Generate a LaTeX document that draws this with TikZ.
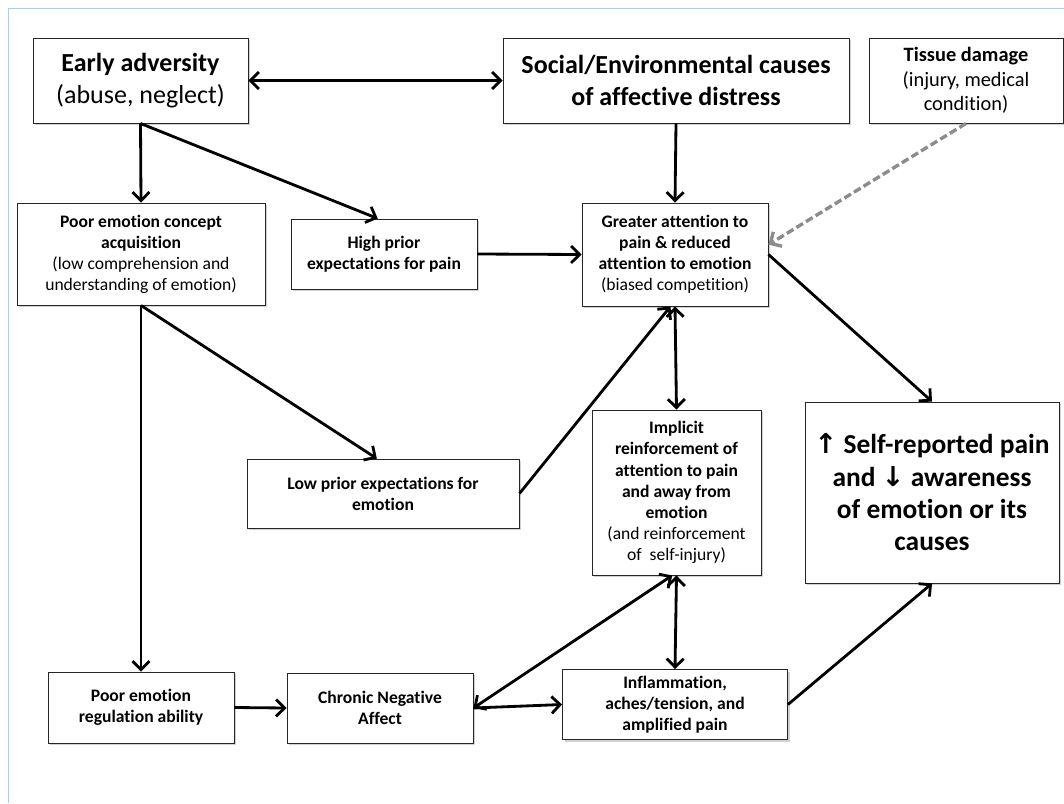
\documentclass[tikz,border=0pt]{standalone}
\usepackage{fontspec}
\setmainfont[Ligatures=NoCommon]{Carlito}
\newfontfamily\arrowfont{DejaVu Sans}
\usetikzlibrary{arrows.meta}
\usetikzlibrary{shadows}
\definecolor{framebl}{RGB}{178,203,230}

\begin{document}
\begin{tikzpicture}[x=0.025cm,y=-0.025cm,
  stagebox/.style={draw=black!85,line width=0.6pt,fill=white,align=center,inner sep=2pt,
    drop shadow={shadow xshift=1.6pt,shadow yshift=-1.6pt,fill=black!30,opacity=0.6}},
  bigtext/.style={font=\fontsize{18.5}{22.5}\selectfont},
  midtext/.style={font=\fontsize{14.5}{17.5}\selectfont},
  smalltext/.style={font=\fontsize{12.5}{15}\selectfont},
  link/.style={line width=2pt,-{Straight Barb[length=6pt,width=12pt]}},
  twolink/.style={line width=2pt,{Straight Barb[length=6pt,width=12pt]}-{Straight Barb[length=6pt,width=12pt]}},
  weaklink/.style={line width=2.4pt,black!45,dash pattern=on 5.5pt off 2.5pt,-{Straight Barb[length=6pt,width=12pt]}}]
\useasboundingbox (0,0) rectangle (1064,803);
\draw[framebl,line width=0.7pt] (8,803) -- (8,8) -- (1064,8);

\node[stagebox,bigtext,minimum width=5.375cm,minimum height=2.125cm] (early) at (140.5,80.5) {\textbf{Early adversity}\\(abuse, neglect)};
\node[stagebox,bigtext,minimum width=8.65cm,minimum height=2.125cm] (social) at (676,80.5) {\textbf{Social/Environmental causes}\\\textbf{of affective distress}};
\node[stagebox,midtext,minimum width=4.85cm,minimum height=2.125cm] (tissue) at (966,80.5) {\textbf{Tissue damage}\\(injury, medical\\condition)};
\node[stagebox,smalltext,minimum width=6.2cm,minimum height=2.55cm] (concept) at (141,254) {\textbf{Poor emotion concept}\\\textbf{acquisition}\\(low comprehension and\\understanding of emotion)};
\node[stagebox,smalltext,minimum width=4.65cm,minimum height=1.75cm] (high) at (384,254) {\textbf{High prior}\\\textbf{expectations for pain}};
\node[stagebox,smalltext,minimum width=4.65cm,minimum height=2.575cm] (attn) at (675,254.5) {\textbf{Greater attention to}\\\textbf{pain \& reduced}\\\textbf{attention to emotion}\\(biased competition)};
\node[stagebox,smalltext,minimum width=4.225cm,minimum height=4.125cm] (implicit) at (676.5,492.5) {\textbf{Implicit}\\\textbf{reinforcement of}\\\textbf{attention to pain}\\\textbf{and away from}\\\textbf{emotion}\\(and reinforcement\\of\ \ self-injury)};
\node[stagebox,font=\fontsize{19.5}{23}\selectfont,minimum width=6.35cm,minimum height=4.525cm] (selfpain) at (932,492.5) {\textbf{{\arrowfont ↑} Self-reported pain}\\\textbf{and {\arrowfont ↓} awareness}\\\textbf{of emotion or its}\\\textbf{causes}};
\node[stagebox,smalltext,minimum width=6.8cm,minimum height=1.725cm] (lowprior) at (383,493.5) {\textbf{Low prior expectations for}\\\textbf{emotion}};
\node[stagebox,smalltext,minimum width=4.65cm,minimum height=1.775cm] (regul) at (141,707.5) {\textbf{Poor emotion}\\\textbf{regulation ability}};
\node[stagebox,smalltext,minimum width=4.65cm,minimum height=1.75cm] (chronic) at (380,708) {\textbf{Chronic Negative}\\\textbf{Affect}};
\node[stagebox,smalltext,minimum width=5.625cm,minimum height=1.75cm] (inflam) at (675,704.5) {\textbf{Inflammation,}\\\textbf{aches/tension, and}\\\textbf{amplified pain}};

\draw[twolink] (early.east) -- (social.west);
\draw[link] (early.south) -- (concept.north);
\draw[link] (early.south) -- (high.100);
\draw[link] (high.east) -- (attn.west);
\draw[link] (social.south) -- (attn.north);
\draw[weaklink] (tissue.south) -- (attn.6);
\draw[link] (concept.south) -- (lowprior.100);
\draw[link] (concept.south) -- (regul.north);
\draw[link] (lowprior.east) -- (attn.-95);
\draw[twolink] (attn.south) -- (implicit.north);
\draw[link] (attn.east) -- (selfpain.north);
\draw[link] (regul.east) -- (chronic.west);
\draw[twolink] (chronic.east) -- (implicit.-93);
\draw[link] (chronic.east) -- (inflam.west);
\draw[twolink] (implicit.south) -- (inflam.north);
\draw[link] (inflam.east) -- (selfpain.south);

\end{tikzpicture}
\end{document}
